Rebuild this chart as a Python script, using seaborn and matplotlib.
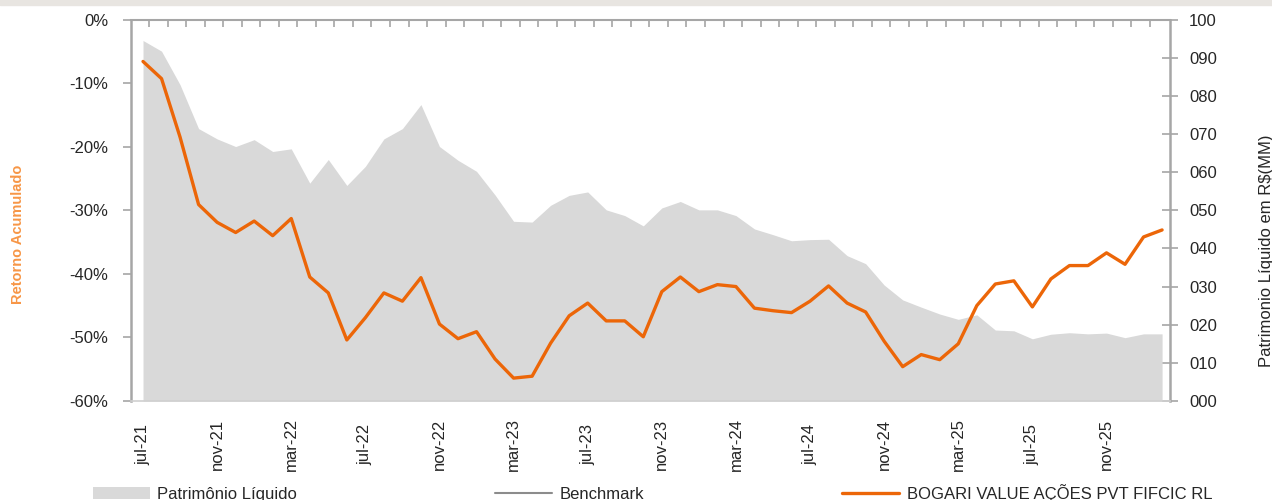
import numpy as np
import pandas as pd
import matplotlib
matplotlib.use("Agg")
import matplotlib.pyplot as plt
from matplotlib.patches import Patch, Rectangle
from matplotlib.lines import Line2D
from matplotlib.ticker import FixedLocator, FuncFormatter
import seaborn as sns

# Data
meses_pt = ['jan', 'fev', 'mar', 'abr', 'mai', 'jun', 'jul', 'ago', 'set', 'out', 'nov', 'dez']
datas = pd.date_range('2021-07-01', periods=56, freq='MS')
rotulos = [f"{meses_pt[d.month - 1]}-{d.strftime('%y')}" for d in datas]

retorno = [-6.6, -9.3, -18.5, -29.1, -31.9, -33.5, -31.7, -34.0, -31.3, -40.5,
           -43.0, -50.4, -46.9, -43.0, -44.3, -40.6, -47.9, -50.2, -49.1, -53.4,
           -56.4, -56.1, -50.9, -46.6, -44.6, -47.4, -47.4, -49.9, -42.8, -40.5,
           -42.8, -41.7, -42.0, -45.4, -45.8, -46.1, -44.3, -41.9, -44.6, -46.0,
           -50.6, -54.6, -52.7, -53.5, -51.0, -45.0, -41.6, -41.1, -45.2, -40.8,
           -38.7, -38.7, -36.7, -38.5, -34.2, -33.1]

patrimonio = [94.5, 91.7, 82.9, 71.4, 68.7, 66.7, 68.5, 65.4, 66.1, 57.1,
              63.3, 56.5, 61.5, 68.7, 71.4, 77.7, 66.7, 63.1, 60.2, 54.0,
              47.1, 46.9, 51.3, 53.9, 54.8, 50.1, 48.6, 45.9, 50.6, 52.3,
              50.1, 50.1, 48.6, 45.1, 43.6, 42.0, 42.3, 42.4, 38.1, 36.0,
              30.4, 26.5, 24.6, 22.8, 21.4, 22.6, 18.6, 18.4, 16.3, 17.5,
              17.9, 17.6, 17.8, 16.6, 17.6, 17.6]

df = pd.DataFrame({'idx': np.arange(len(datas)), 'retorno': retorno, 'pl': patrimonio})

sns.set_style('white')
plt.rcParams['font.family'] = ['Liberation Sans', 'DejaVu Sans']

laranja = '#EC6608'
laranja_label = '#F79646'
cinza_eixo = '#A6A6A6'
cinza_area = '#D9D9D9'
fs = 12

W, H = 1272, 500
fig = plt.figure(figsize=(W / 100, H / 100), dpi=100)
fig.patches.append(Rectangle((0, 1 - 5 / H), 1, 5 / H, transform=fig.transFigure,
                             color='#E8E5E1', zorder=0))

ax = fig.add_axes([130.5 / W, 1 - 401 / H, (1169.5 - 130.5) / W, (401 - 19.5) / H])
ax2 = ax.twinx()
ax.set_zorder(ax2.get_zorder() + 1)
ax.patch.set_visible(False)

# area (right axis)
ax2.fill_between(df['idx'], df['pl'], color=cinza_area, lw=0)
ax2.set_ylim(0, 100)
ax2.set_yticks(range(0, 101, 10))
ax2.yaxis.set_major_formatter(FuncFormatter(lambda v, p: f"{int(round(v)):03d}"))
ax2.tick_params(axis='y', direction='inout', length=12, width=1.2, color=cinza_eixo,
                pad=8, labelsize=fs, right=True)

# line (left axis)
sns.lineplot(data=df, x='idx', y='retorno', ax=ax, color=laranja, lw=2.4)
ax.set_ylim(-60, 0)
ax.set_yticks(range(-60, 1, 10))
ax.yaxis.set_major_formatter(FuncFormatter(lambda v, p: f"{int(round(v))}%"))
ax.tick_params(axis='y', direction='out', length=6, width=1.2, color=cinza_eixo,
               pad=10, labelsize=fs, left=True)

ax.set_xlim(-0.675, 55.4)
ax.set_xticks(range(0, len(datas), 4))
ax.set_xticklabels(rotulos[::4])
ax.xaxis.set_minor_locator(FixedLocator([i + 0.33 for i in range(55)]))
ax.tick_params(axis='x', which='major', length=0, pad=31, labelsize=fs, labelrotation=90)
ax.tick_params(axis='x', which='minor', bottom=False, top=True, direction='in',
               length=5, width=1.2, color=cinza_eixo)
for lb in ax.get_xticklabels():
    lb.set_va('center')
    lb.set_ha('center')

for a in (ax, ax2):
    for s in a.spines.values():
        s.set_visible(False)
ax.spines['left'].set_visible(True)
ax.spines['left'].set_color(cinza_eixo)
ax.spines['left'].set_linewidth(1.8)
ax.spines['top'].set_visible(True)
ax.spines['top'].set_color(cinza_eixo)
ax.spines['top'].set_linewidth(1.5)
ax.spines['bottom'].set_visible(True)
ax.spines['bottom'].set_color('#D0D0D0')
ax.spines['bottom'].set_linewidth(1.2)
ax2.spines['right'].set_visible(True)
ax2.spines['right'].set_color(cinza_eixo)
ax2.spines['right'].set_linewidth(1.8)

ax.set_xlabel('')
ax.set_ylabel('Retorno Acumulado', color=laranja_label, fontweight='bold', fontsize=10.5)
ax.yaxis.set_label_coords(-0.102, 0.436)
ax2.set_ylabel('Patrimonio Líquido em R$(MM)', fontsize=fs)
ax2.yaxis.set_label_coords(1.086, 0.394)

handles = [Patch(facecolor=cinza_area, edgecolor='none'),
           Line2D([], [], color='#8C8C8C', lw=1.5),
           Line2D([], [], color=laranja, lw=2.4)]
labels = ['Patrimônio Líquido', 'Benchmark', 'BOGARI VALUE AÇÕES PVT FIFCIC RL']
fig.legend(handles, labels, loc='center left', bbox_to_anchor=(93 / W, 1 - 493 / H),
           ncol=3, frameon=False, handlelength=3.4, handletextpad=0.45,
           columnspacing=11.9, borderpad=0, borderaxespad=0, fontsize=fs)

fig.savefig('out.png', dpi=100)
